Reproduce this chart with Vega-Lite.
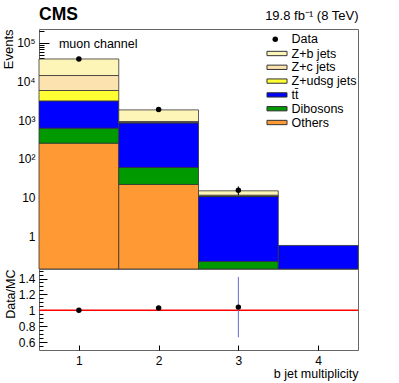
{
  "$schema": "https://vega.github.io/schema/vega-lite/v6.json",
  "padding": {"left": 1, "top": 5, "right": 5, "bottom": 3},
  "spacing": 0,
  "bounds": "flush",
  "config": {
    "font": "Liberation Sans",
    "view": {"stroke": "#666", "strokeWidth": 1},
    "axis": {"labelFont": "Liberation Sans", "labelFontSize": 12, "labelColor": "black", "titleFont": "Liberation Sans", "titleFontSize": 12.5, "titleFontWeight": "normal", "titleColor": "black", "tickColor": "black", "domain": false, "grid": false, "labelOverlap": false, "labelFlush": false},
    "legend": {"labelFont": "Liberation Sans", "labelFontSize": 12.5, "labelColor": "black", "padding": 0},
    "title": {"font": "Liberation Sans", "color": "black"},
    "concat": {"spacing": 0}
  },
  "datasets": {
    "mc": [
      {"bin": 1, "lo": 0.5, "hi": 1.5, "process": "Others", "order": 1, "value": 254},
      {"bin": 1, "lo": 0.5, "hi": 1.5, "process": "Dibosons", "order": 2, "value": 366},
      {"bin": 1, "lo": 0.5, "hi": 1.5, "process": "tt̄", "order": 3, "value": 2540},
      {"bin": 1, "lo": 0.5, "hi": 1.5, "process": "Z+udsg jets", "order": 4, "value": 2710},
      {"bin": 1, "lo": 0.5, "hi": 1.5, "process": "Z+c jets", "order": 5, "value": 8480},
      {"bin": 1, "lo": 0.5, "hi": 1.5, "process": "Z+b jets", "order": 6, "value": 24150},
      {"bin": 2, "lo": 1.5, "hi": 2.5, "process": "Others", "order": 1, "value": 21.7},
      {"bin": 2, "lo": 1.5, "hi": 2.5, "process": "Dibosons", "order": 2, "value": 38},
      {"bin": 2, "lo": 1.5, "hi": 2.5, "process": "tt̄", "order": 3, "value": 790},
      {"bin": 2, "lo": 1.5, "hi": 2.5, "process": "Z+udsg jets", "order": 4, "value": 25},
      {"bin": 2, "lo": 1.5, "hi": 2.5, "process": "Z+c jets", "order": 5, "value": 45},
      {"bin": 2, "lo": 1.5, "hi": 2.5, "process": "Z+b jets", "order": 6, "value": 930},
      {"bin": 3, "lo": 2.5, "hi": 3.5, "process": "Others", "order": 1, "value": 0.1},
      {"bin": 3, "lo": 2.5, "hi": 3.5, "process": "Dibosons", "order": 2, "value": 0.12},
      {"bin": 3, "lo": 2.5, "hi": 3.5, "process": "tt̄", "order": 3, "value": 10.3},
      {"bin": 3, "lo": 2.5, "hi": 3.5, "process": "Z+udsg jets", "order": 4, "value": 0.3},
      {"bin": 3, "lo": 2.5, "hi": 3.5, "process": "Z+c jets", "order": 5, "value": 0.6},
      {"bin": 3, "lo": 2.5, "hi": 3.5, "process": "Z+b jets", "order": 6, "value": 3.4},
      {"bin": 4, "lo": 3.5, "hi": 4.5, "process": "Others", "order": 1, "value": 0.02},
      {"bin": 4, "lo": 3.5, "hi": 4.5, "process": "Dibosons", "order": 2, "value": 0.03},
      {"bin": 4, "lo": 3.5, "hi": 4.5, "process": "tt̄", "order": 3, "value": 0.52}
    ],
    "data": [
      {"bin": 1, "label": "Data", "events": 38500, "err": 196},
      {"bin": 2, "label": "Data", "events": 1900, "err": 44},
      {"bin": 3, "label": "Data", "events": 15.4, "err": 3.9}
    ],
    "ratio": [
      {"bin": 1, "ratio": 1.0, "lo": 0.993, "hi": 1.007},
      {"bin": 2, "ratio": 1.03, "lo": 1.005, "hi": 1.055},
      {"bin": 3, "ratio": 1.04, "lo": 0.66, "hi": 1.42}
    ]
  },
  "vconcat": [
    {
      "width": 319,
      "height": 240,
      "title": {"text": "CMS", "anchor": "start", "frame": "group", "fontSize": 17.5, "fontWeight": "bold", "offset": -14},
      "resolve": {"axis": {"x": "independent", "y": "independent"}},
      "layer": [
        {
          "data": {"name": "mc"},
          "transform": [{"stack": "value", "groupby": ["bin"], "sort": [{"field": "order", "order": "ascending"}], "as": ["y0", "y1"]}],
          "mark": {"type": "rect", "stroke": "#333", "strokeWidth": 0.8},
          "encoding": {
            "x": {"field": "lo", "type": "quantitative", "scale": {"domain": [0.5, 4.5], "nice": false, "zero": false},
              "axis": {"orient": "bottom", "labels": false, "title": null, "values": [1, 2, 3, 4], "tickSize": -6, "tickWidth": 1}},
            "x2": {"field": "hi"},
            "y": {"field": "y1", "type": "quantitative", "title": "Events", "scale": {"type": "log", "domain": [0.14, 230000], "nice": false, "clamp": true},
              "axis": {"orient": "left", "title": "Events", "titleAnchor": "end", "titleFontSize": 13, "titlePadding": 1, "labelPadding": 14, "tickSize": -10, "labelOverlap": false,
                "values": [1, 10, 100, 1000, 10000, 100000],
                "labelExpr": "datum.value == 100000 ? '10⁵' : datum.value == 10000 ? '10⁴' : datum.value == 1000 ? '10³' : datum.value == 100 ? '10²' : datum.value == 10 ? '10' : '1'"}},
            "y2": {"field": "y0"},
            "color": {"field": "process", "type": "nominal",
              "scale": {"domain": ["Z+b jets", "Z+c jets", "Z+udsg jets", "tt̄", "Dibosons", "Others"], "range": ["#fdf5b8", "#fbe2ae", "#ffff33", "#0000ff", "#009900", "#ff9933"]},
              "legend": {"orient": "none", "legendX": 231.5, "legendY": 18, "title": null, "symbolType": "M-1.67,-0.36L1.67,-0.36L1.67,0.36L-1.67,0.36Z", "symbolSize": 144, "symbolStrokeColor": "#333", "symbolStrokeWidth": 1, "symbolOpacity": 1, "labelOffset": 8, "rowPadding": 0.8}}
          }
        },
        {
          "data": {"name": "data"},
          "mark": {"type": "errorbar", "color": "black", "ticks": false},
          "encoding": {
            "x": {"field": "bin", "type": "quantitative", "axis": null},
            "y": {"field": "events", "type": "quantitative", "title": null,
              "axis": {"orient": "left", "labels": false, "title": null, "tickSize": -5,
                "values": [0.2,0.3,0.4,0.5,0.6,0.7,0.8,0.9,2,3,4,5,6,7,8,9,20,30,40,50,60,70,80,90,200,300,400,500,600,700,800,900,2000,3000,4000,5000,6000,7000,8000,9000,20000,30000,40000,50000,60000,70000,80000,90000,200000]}},
            "yError": {"field": "err"}
          }
        },
        {
          "data": {"name": "data"},
          "mark": {"type": "point", "filled": true, "size": 30, "opacity": 1, "color": "black"},
          "encoding": {
            "x": {"field": "bin", "type": "quantitative", "axis": {"orient": "top", "labels": false, "ticks": false, "domain": false, "title": "19.8 fb⁻¹ (8 TeV)", "titleAnchor": "end", "titleFontSize": 13, "titlePadding": 7}},
            "y": {"field": "events", "type": "quantitative", "axis": null},
            "shape": {"field": "label", "type": "nominal", "scale": {"domain": ["Data"], "range": ["circle"]},
              "legend": {"orient": "none", "legendX": 230, "legendY": 4, "title": null, "symbolSize": 30, "symbolFillColor": "black", "symbolStrokeWidth": 0, "labelOffset": 10}}
          }
        },
        {
          "data": {"values": [{}]},
          "mark": {"type": "text", "text": "muon channel", "align": "left", "baseline": "middle", "fontSize": 12.5, "font": "Liberation Sans", "color": "black"},
          "encoding": {
            "x": {"datum": 0.75, "type": "quantitative",
              "axis": {"orient": "bottom", "labels": false, "title": null, "tickSize": -3,
                "values": [0.6,0.7,0.8,0.9,1.1,1.2,1.3,1.4,1.5,1.6,1.7,1.8,1.9,2.1,2.2,2.3,2.4,2.5,2.6,2.7,2.8,2.9,3.1,3.2,3.3,3.4,3.5,3.6,3.7,3.8,3.9,4.1,4.2,4.3,4.4]}},
            "y": {"datum": 92000, "type": "quantitative", "axis": null}
          }
        }
      ]
    },
    {
      "width": 319,
      "height": 81,
      "resolve": {"axis": {"y": "independent"}},
      "layer": [
        {
          "data": {"values": [{}]},
          "mark": {"type": "rule", "color": "#ff0000", "strokeWidth": 1.5},
          "encoding": {"y": {"datum": 1, "type": "quantitative",
            "axis": {"orient": "left", "labels": false, "title": null, "tickSize": -4,
              "values": [0.55,0.65,0.7,0.75,0.85,0.9,0.95,1.05,1.1,1.15,1.25,1.3,1.35,1.45,1.5]}}}
        },
        {
          "data": {"name": "ratio"},
          "mark": {"type": "rule", "color": "#6a6acc", "strokeWidth": 1},
          "encoding": {
            "x": {"field": "bin", "type": "quantitative", "title": "b jet multiplicity", "scale": {"domain": [0.5, 4.5], "nice": false, "zero": false},
              "axis": {"values": [1, 2, 3, 4], "format": "d", "tickSize": -5, "labelPadding": 10, "title": "b jet multiplicity", "titleAnchor": "end", "titleFontSize": 12.5, "titlePadding": 1}},
            "y": {"field": "lo", "type": "quantitative", "title": "Data/MC", "scale": {"domain": [0.5, 1.52], "nice": false, "zero": false},
              "axis": {"orient": "left", "title": "Data/MC", "titleAnchor": "end", "titleFontSize": 12.5, "titlePadding": 1, "labelPadding": 12, "tickSize": -8, "labelOverlap": false,
                "values": [0.6, 0.8, 1, 1.2, 1.4], "labelExpr": "format(datum.value, '~g')"}},
            "y2": {"field": "hi"}
          }
        },
        {
          "data": {"name": "ratio"},
          "mark": {"type": "point", "filled": true, "size": 30, "opacity": 1, "color": "black"},
          "encoding": {
            "x": {"field": "bin", "type": "quantitative", "title": "b jet multiplicity"},
            "y": {"field": "ratio", "type": "quantitative", "axis": null}
          }
        }
      ]
    }
  ]
}
